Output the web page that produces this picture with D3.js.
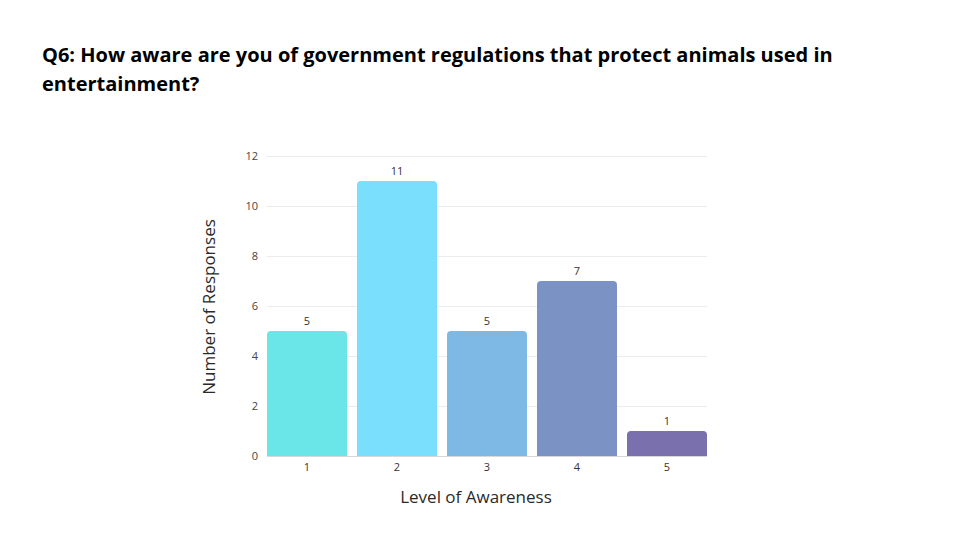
<!DOCTYPE html>
<html>
<head>
<meta charset="utf-8">
<script src="https://cdn.jsdelivr.net/npm/d3@7"></script>
<style>
  body { margin: 0; background: #fff; }
  svg { display: block; }
</style>
</head>
<body>
<svg id="chart" width="960" height="540"></svg>
<script>
// chart data
var levels = ["1", "2", "3", "4", "5"];
var responses = [5, 11, 5, 7, 1];
var barColors = ["#6ae6e8", "#7adffd", "#7eb9e6", "#7b92c4", "#7b70ae"];
var yTicks = [0, 2, 4, 6, 8, 10, 12];

var svg = d3.select("#chart");

// title
var title = svg.append("text")
  .attr("x", 42)
  .attr("font-family", "'Open Sans', sans-serif")
  .attr("font-weight", "bold")
  .attr("font-size", 20)
  .attr("fill", "#000");
title.append("tspan").attr("x", 42).attr("y", 62)
  .text("Q6: How aware are you of government regulations that protect animals used in");
title.append("tspan").attr("x", 42).attr("y", 91)
  .text("entertainment?");

var plotLeft = 267, plotRight = 707, plotTop = 156, plotBottom = 456;

var x = d3.scaleBand()
  .domain(levels)
  .range([plotLeft, plotRight])
  .paddingInner(10 / 90)
  .paddingOuter(0);

var y = d3.scaleLinear()
  .domain([0, 12])
  .range([plotBottom, plotTop]);

// gridlines
svg.append("g")
  .selectAll("line")
  .data(yTicks)
  .enter().append("line")
  .attr("x1", plotLeft)
  .attr("x2", plotRight)
  .attr("y1", function(d){ return y(d) + 0.5; })
  .attr("y2", function(d){ return y(d) + 0.5; })
  .attr("stroke", function(d){ return d == 0 ? "#d8d8d8" : "#ececec"; })
  .attr("stroke-width", 1);

// y tick labels
var yAxis = d3.axisLeft(y).tickValues(yTicks).tickSize(0).tickPadding(0);
var yg = svg.append("g")
  .attr("transform", "translate(" + (plotLeft - 9) + ",0)")
  .call(yAxis);
yg.select(".domain").remove();
yg.selectAll("text")
  .attr("font-family", "'Open Sans', sans-serif")
  .attr("font-size", 11)
  .attr("fill", "#444");

// bars with rounded top corners
var r = 4;
svg.append("g")
  .selectAll("path")
  .data(responses)
  .enter().append("path")
  .attr("d", function(d, i){
    var x0 = x(levels[i]), w = x.bandwidth(), y0 = y(d), y1 = y(0);
    return "M" + x0 + "," + y1
      + "V" + (y0 + r)
      + "Q" + x0 + "," + y0 + " " + (x0 + r) + "," + y0
      + "H" + (x0 + w - r)
      + "Q" + (x0 + w) + "," + y0 + " " + (x0 + w) + "," + (y0 + r)
      + "V" + y1 + "Z";
  })
  .attr("fill", function(d, i){ return barColors[i]; });

// value labels
svg.append("g")
  .selectAll("text")
  .data(responses)
  .enter().append("text")
  .attr("x", function(d, i){ return x(levels[i]) + x.bandwidth() / 2; })
  .attr("y", function(d){ return y(d) - 6; })
  .attr("text-anchor", "middle")
  .attr("font-family", "'Open Sans', sans-serif")
  .attr("font-size", 11)
  .attr("fill", "#333")
  .text(function(d){ return d; });

// x tick labels
var xAxis = d3.axisBottom(x).tickSize(0).tickPadding(0);
var xg = svg.append("g")
  .attr("transform", "translate(0," + (plotBottom + 7) + ")")
  .call(xAxis);
xg.select(".domain").remove();
xg.selectAll("text")
  .attr("font-family", "'Open Sans', sans-serif")
  .attr("font-size", 11)
  .attr("fill", "#333");

// axis titles
svg.append("text")
  .attr("x", 476)
  .attr("y", 503)
  .attr("text-anchor", "middle")
  .attr("font-family", "'Open Sans', sans-serif")
  .attr("font-size", 17)
  .attr("fill", "#2a2a2a")
  .text("Level of Awareness");

svg.append("text")
  .attr("transform", "translate(215,307) rotate(-90)")
  .attr("text-anchor", "middle")
  .attr("font-family", "'Open Sans', sans-serif")
  .attr("font-size", 17)
  .attr("fill", "#2a2a2a")
  .text("Number of Responses");
</script>
</body>
</html>
